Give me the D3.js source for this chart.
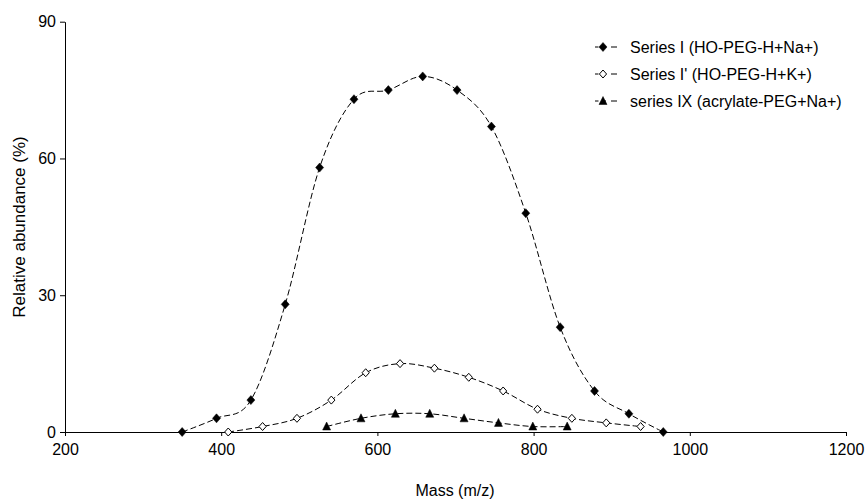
<!DOCTYPE html>
<html>
<head>
<meta charset="utf-8">
<script src="https://cdn.jsdelivr.net/npm/d3@7"></script>
<style>
  body { margin: 0; background: #fff; }
  svg { display: block; }
  text { font-family: "Liberation Sans", Arial, sans-serif; fill: #000; }
</style>
</head>
<body>
<svg id="chart" width="866" height="502"></svg>
<script>
// ---- data ----
const massI = [350, 394, 438, 482, 526, 570, 614, 658, 702, 746, 790, 834, 878, 922, 966];
const valuesI = [0, 3, 7, 28, 58, 73, 75, 78, 75, 67, 48, 23, 9, 4, 0];
const massIp = [409, 453, 497, 541, 585, 629, 673, 717, 761, 805, 849, 893, 937];
const valuesIp = [0, 1.2, 3, 7, 13, 15, 14, 12, 9, 5, 3, 2, 1.2];
const massIX = [535, 579, 623, 667, 711, 755, 799, 843];
const valuesIX = [1.2, 3, 4, 4, 3, 2, 1.2, 1.2];
const seriesNames = ["Series I (HO-PEG-H+Na+)", "Series I' (HO-PEG-H+K+)", "series IX (acrylate-PEG+Na+)"];
const xTicks = [200, 400, 600, 800, 1000, 1200];
const yTicks = [0, 30, 60, 90];
const xTitle = "Mass (m/z)";
const yTitle = "Relative abundance (%)";

const series = [
  { name: seriesNames[0], xs: massI, ys: valuesI, marker: "diamondFilled" },
  { name: seriesNames[1], xs: massIp, ys: valuesIp, marker: "diamondOpen" },
  { name: seriesNames[2], xs: massIX, ys: valuesIX, marker: "triangle" }
];

const FS = 16;
const svg = d3.select("#chart");
const mLeft = 65, mRight = 846, mTop = 21.7, mBottom = 432;
const x = d3.scaleLinear().domain([200, 1200]).range([mLeft, mRight]);
const y = d3.scaleLinear().domain([0, 90]).range([mBottom, mTop]);

// axes
const xAxis = d3.axisBottom(x).tickValues(xTicks).tickFormat(d3.format("d"))
  .tickSize(4).tickSizeOuter(0).tickPadding(8);
const gx = svg.append("g").attr("transform", `translate(0,${mBottom})`).call(xAxis);
gx.select(".domain").attr("stroke", "#000");
gx.selectAll(".tick line").attr("stroke", "#000");
gx.selectAll("text").attr("font-size", FS).style("font-family", "'Liberation Sans', Arial, sans-serif").attr("fill", "#000");

const yAxis = d3.axisLeft(y).tickValues(yTicks).tickFormat(d3.format("d"))
  .tickSize(5).tickSizeOuter(0).tickPadding(4);
const gy = svg.append("g").attr("transform", `translate(${mLeft},0)`).call(yAxis);
gy.select(".domain").attr("stroke", "#000");
gy.selectAll(".tick line").attr("stroke", "#000");
gy.selectAll("text").attr("font-size", FS).style("font-family", "'Liberation Sans', Arial, sans-serif").attr("fill", "#000");

// titles
svg.append("text").attr("x", 455).attr("y", 496)
  .attr("text-anchor", "middle").attr("font-size", FS).text(xTitle);
svg.append("text").attr("transform", `translate(25,227) rotate(-90)`)
  .attr("text-anchor", "middle").attr("font-size", 17).text(yTitle);

// markers
function drawMarker(g, type, cx, cy) {
  if (type === "diamondFilled") {
    g.append("path").attr("d", `M${cx},${cy - 4.5}L${cx + 4},${cy}L${cx},${cy + 4.5}L${cx - 4},${cy}Z`)
      .attr("fill", "#000").attr("stroke", "#000").attr("stroke-width", 0.5);
  } else if (type === "diamondOpen") {
    g.append("path").attr("d", `M${cx},${cy - 4}L${cx + 3.6},${cy}L${cx},${cy + 4}L${cx - 3.6},${cy}Z`)
      .attr("fill", "#fff").attr("stroke", "#000").attr("stroke-width", 1);
  } else {
    g.append("path").attr("d", `M${cx},${cy - 4.5}L${cx + 4},${cy + 3.5}L${cx - 4},${cy + 3.5}Z`)
      .attr("fill", "#000").attr("stroke", "#000").attr("stroke-width", 0.5);
  }
}

const line = d3.line().curve(d3.curveCardinal.tension(0)).x(d => x(d[0])).y(d => y(d[1]));
const plot = svg.append("g");
series.forEach(s => {
  const pts = s.xs.map((m, i) => [m, s.ys[i]]);
  plot.append("path").attr("d", line(pts)).attr("fill", "none")
    .attr("stroke", "#000").attr("stroke-width", 1).attr("stroke-dasharray", "6,3");
});
series.forEach(s => {
  const g = plot.append("g");
  s.xs.forEach((m, i) => drawMarker(g, s.marker, x(m), y(s.ys[i])));
});

// legend
const legendY = [47, 74, 101];
series.forEach((s, i) => {
  const g = svg.append("g");
  const ly = legendY[i];
  g.append("line").attr("x1", 595).attr("x2", 598.5).attr("y1", ly).attr("y2", ly).attr("stroke", "#000");
  g.append("line").attr("x1", 603).attr("x2", 606).attr("y1", ly).attr("y2", ly).attr("stroke", "#000");
  g.append("line").attr("x1", 611).attr("x2", 617).attr("y1", ly).attr("y2", ly).attr("stroke", "#000");
  drawMarker(g, s.marker, 603, ly);
  g.append("text").attr("x", 630).attr("y", ly + 5.5).attr("font-size", FS).text(s.name);
});
</script>
</body>
</html>
